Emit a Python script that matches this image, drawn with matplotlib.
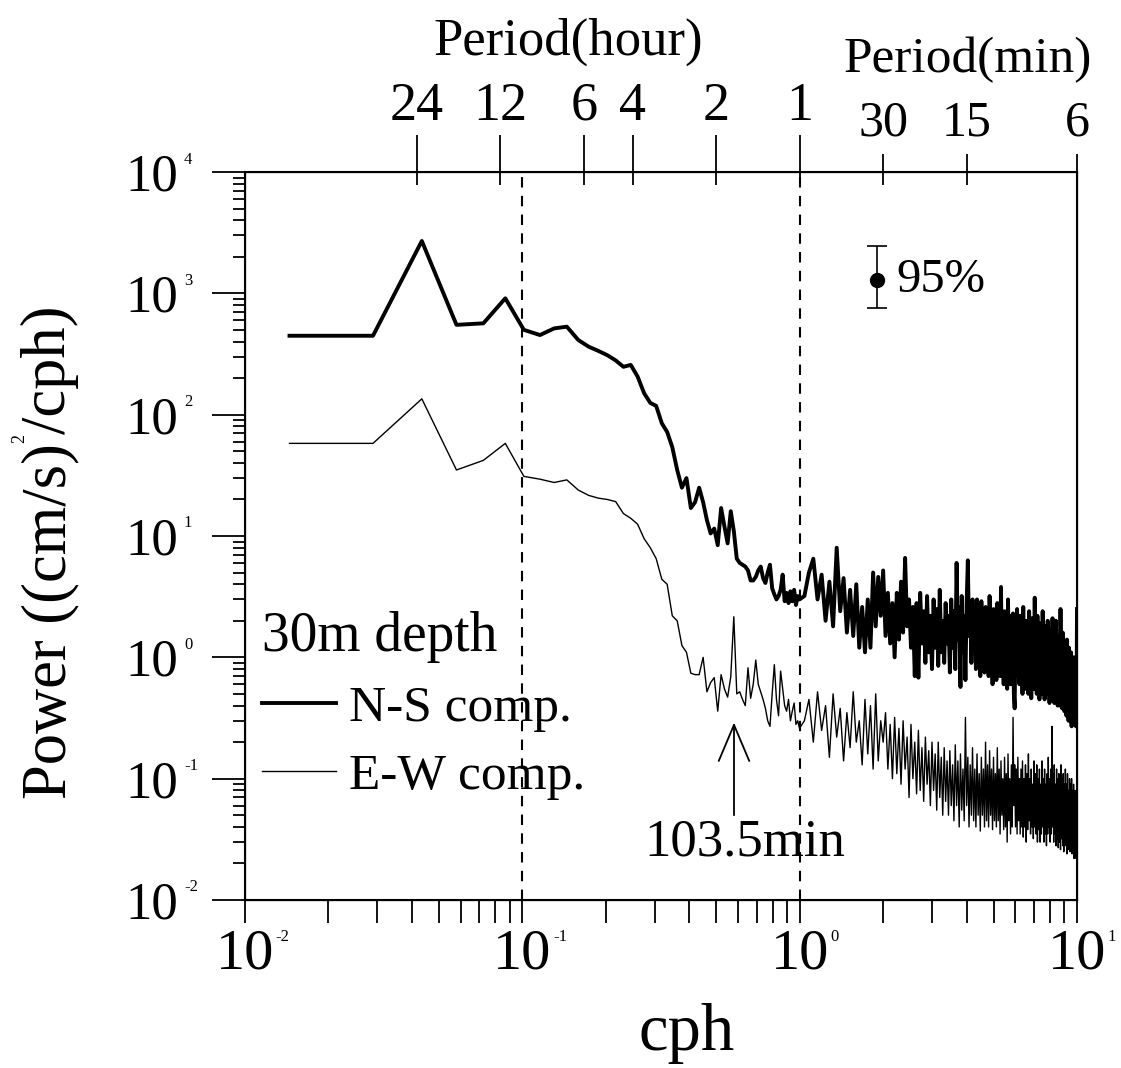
import numpy as np
import matplotlib
matplotlib.use("Agg")
import matplotlib.pyplot as plt
from matplotlib.lines import Line2D
from matplotlib.ticker import FixedLocator, FixedFormatter, NullFormatter, LogLocator

plt.rcParams['font.family'] = ['Liberation Serif', 'DejaVu Serif']

# spectra
DF = 0.01447      # native frequency step below 1 cph
DF_HI = 0.04      # coarser step used above 1 cph
F_HI0 = 1.04

ns_low = [447, 447, 2700, 550, 566, 910, 500, 453, 514, 531,
          412, 363, 335, 309, 280, 248, 257, 206, 150, 125,
          118, 85, 72, 54, 35, 25, 30, 17, 19, 25,
          19, 13.5, 10.5, 11.5, 8.4, 17, 12, 8.7, 16, 11,
          6.5, 6.0, 5.8, 5.6, 5.2, 4.3, 4.3, 4.6, 5.2, 5.6,
          4.5, 4.1, 5.0, 5.8, 3.7, 3.3, 3.0, 3.2, 3.6, 4.8,
          2.9, 3.4, 2.8, 3.5, 2.9, 3.6, 2.7, 3.2, 3.0]
ew_low = [58, 58, 135, 35, 42, 58, 31, 29.4, 27.6, 29,
          23.9, 21.6, 20.5, 20, 19.2, 15.3, 14, 12.5, 9.5, 8,
          6.5, 4.4, 4.0, 2.2, 2.0, 1.25, 1.1, 0.74, 0.72, 0.72,
          1.0, 0.52, 0.62, 0.68, 0.36, 0.72, 0.55, 0.47, 0.69, 2.16,
          0.5, 0.52, 0.45, 0.40, 0.82, 0.46, 0.6, 0.95, 0.6, 0.52,
          0.45, 0.38, 0.3, 0.27, 0.5, 0.87, 0.45, 0.33, 0.77, 0.55,
          0.4, 0.36, 0.45, 0.3, 0.36, 0.42, 0.28, 0.3, 0.26]
ns_high = [3.2, 5.0, 6.5, 3.0, 4.8, 2.0, 4.2, 1.8, 8.0, 2.4,
           4.5, 1.6, 3.6, 1.5, 4.0, 1.2, 2.6, 1.1, 3.0, 1.2,
           5.0, 1.8, 4.6, 2.2, 5.2, 1.5, 3.4, 1.3, 2.8, 1.0,
           3.4, 1.4, 4.2, 1.6, 6.6, 1.8, 3.0, 1.2, 2.6, 0.7,
           2.8, 0.68, 3.4, 1.3, 2.4, 0.9, 3.2, 1.1, 2.2, 0.8,
           3.0, 1.2, 2.5, 0.85, 3.6, 1.1, 2.0, 0.9, 2.8, 1.3,
           2.2, 0.75, 3.0, 1.2, 2.4, 0.8, 6.0, 1.4, 2.6, 0.57,
           3.2, 1.1, 2.2, 0.65, 2.8, 6.3, 1.5, 2.6, 0.9, 3.0,
           1.2, 2.2, 0.8, 3.0, 1.0, 2.4, 0.7, 2.9, 1.2, 2.0,
           0.75, 2.6, 1.1, 2.0, 0.7, 3.2, 1.0, 2.2, 0.6, 2.5,
           1.0, 1.9, 0.65, 2.8, 1.1, 2.1, 0.7, 3.8, 0.9, 2.0,
           0.6, 2.4, 1.0, 1.8, 0.55, 3.0, 0.9, 2.2, 0.6, 1.7,
           0.9, 2.3, 0.5, 0.38, 1.6, 0.8, 2.5, 0.7, 1.8, 0.6,
           2.2, 0.9, 1.5, 0.5, 2.6, 0.8, 1.7, 0.55, 2.0, 0.7,
           1.6, 0.5, 2.4, 0.9, 1.4, 0.46, 2.1, 0.8, 1.5, 0.55,
           3.1, 0.7, 1.7, 0.5, 2.2, 0.8, 1.3, 0.45, 1.9, 0.7,
           1.4, 0.5, 2.4, 0.75, 1.5, 0.45, 1.8, 0.65, 1.2, 0.5,
           2.0, 0.6, 1.3, 0.42, 1.7, 0.7, 1.1, 0.45, 2.1, 0.6,
           1.2, 0.42, 1.6, 0.6, 2.0, 0.5, 1.2, 0.4, 1.5, 0.6,
           1.1, 0.4, 2.5, 0.55, 1.4, 0.38, 1.6, 0.5, 1.1, 0.36,
           1.3, 0.45, 1.0, 0.33, 1.4, 0.5, 0.9, 0.3, 1.2, 0.42,
           0.9, 0.3, 1.1, 0.27, 0.8, 0.35, 1.0, 0.28, 0.7, 0.3,
           1.0, 0.3, 0.27, 0.35, 2.5]
ew_high = [0.3, 0.45, 0.2, 0.52, 0.25, 0.4, 0.15, 0.5, 0.22, 0.38,
           0.14, 0.35, 0.18, 0.52, 0.2, 0.3, 0.13, 0.45, 0.16, 0.4,
           0.12, 0.5, 0.14, 0.3, 0.2, 0.35, 0.12, 0.28, 0.1, 0.32,
           0.11, 0.26, 0.09, 0.3, 0.12, 0.22, 0.07, 0.28, 0.1, 0.2,
           0.075, 0.25, 0.08, 0.18, 0.065, 0.22, 0.09, 0.17, 0.06, 0.2,
           0.08, 0.16, 0.055, 0.2, 0.07, 0.15, 0.05, 0.18, 0.065, 0.14,
           0.05, 0.17, 0.06, 0.13, 0.045, 0.19, 0.06, 0.14, 0.04, 0.16,
           0.055, 0.12, 0.045, 0.32, 0.06, 0.15, 0.04, 0.13, 0.05, 0.18,
           0.045, 0.12, 0.04, 0.16, 0.05, 0.11, 0.037, 0.15, 0.05, 0.12,
           0.04, 0.2, 0.045, 0.13, 0.04, 0.17, 0.05, 0.12, 0.038, 0.15,
           0.045, 0.11, 0.04, 0.18, 0.045, 0.12, 0.035, 0.14, 0.05, 0.1,
           0.038, 0.15, 0.04, 0.11, 0.03, 0.16, 0.045, 0.1, 0.035, 0.13,
           0.04, 0.32, 0.06, 0.13, 0.04, 0.12, 0.035, 0.15, 0.045, 0.1,
           0.035, 0.12, 0.04, 0.14, 0.033, 0.1, 0.04, 0.13, 0.03, 0.11,
           0.038, 0.16, 0.045, 0.1, 0.035, 0.12, 0.04, 0.09, 0.032, 0.14,
           0.04, 0.11, 0.035, 0.13, 0.03, 0.1, 0.038, 0.12, 0.03, 0.09,
           0.035, 0.14, 0.04, 0.1, 0.03, 0.12, 0.035, 0.09, 0.028, 0.11,
           0.035, 0.15, 0.04, 0.1, 0.03, 0.12, 0.035, 0.27, 0.04, 0.11,
           0.03, 0.13, 0.035, 0.09, 0.028, 0.12, 0.032, 0.1, 0.027, 0.11,
           0.03, 0.09, 0.026, 0.13, 0.032, 0.1, 0.028, 0.11, 0.025, 0.09,
           0.03, 0.12, 0.028, 0.09, 0.024, 0.11, 0.03, 0.08, 0.026, 0.1,
           0.025, 0.09, 0.03, 0.1, 0.024, 0.08, 0.028, 0.09, 0.022, 0.07,
           0.08, 0.025, 0.022, 0.03, 0.28]

hour_ticks = [24, 12, 6, 4, 2, 1]
min_ticks = [30, 15, 6]
x_decades = [-2, -1, 0, 1]
y_decades = [-2, -1, 0, 1, 2, 3, 4]

ci_freq = 1.9
ci_val = 1300
ci_low = 760
ci_high = 2450
peak_min = 103.5
peak_cph = 60 / peak_min

freq = np.concatenate([DF * np.arange(1, len(ns_low) + 1),
                       F_HI0 + DF_HI * np.arange(len(ns_high))])
ns = np.concatenate([ns_low, ns_high])
ew = np.concatenate([ew_low, ew_high])

W, H = 1121, 1068
fig = plt.figure(figsize=(W / 100, H / 100), dpi=100)
ax = fig.add_axes([245 / W, 1 - 900 / H, 832 / W, 728 / H])
ax.set_xscale('log')
ax.set_yscale('log')
ax.set_xlim(1e-2, 10)
ax.set_ylim(1e-2, 1e4)

ax.plot(freq, ns, color='k', lw=2.8)
ax.plot(freq, ew, color='k', lw=1.0)

for f in [0.1, 1.0]:
    ax.axvline(f, color='k', lw=1.5, ls=(0, (5, 4)))

for s in ax.spines.values():
    s.set_linewidth(1.5)

# bottom axis
ax.xaxis.set_major_locator(FixedLocator([10.0 ** d for d in x_decades]))
ax.xaxis.set_major_formatter(FixedFormatter(['10'] * len(x_decades)))
ax.xaxis.set_minor_locator(LogLocator(base=10, subs=range(2, 10)))
ax.xaxis.set_minor_formatter(NullFormatter())
ax.tick_params(axis='x', which='both', direction='out', length=16.5, width=1.3,
               labelsize=42, pad=4, top=False)
for d in x_decades:
    ax.annotate(str(d), xy=(10.0 ** d, 0), xycoords=('data', 'axes fraction'),
                xytext=(22, -21), textcoords='offset points', fontsize=12,
                ha='left', va='top')

# left axis
ax.yaxis.set_major_locator(FixedLocator([10.0 ** d for d in y_decades]))
ax.yaxis.set_major_formatter(FixedFormatter(['10'] * len(y_decades)))
ax.yaxis.set_minor_locator(LogLocator(base=10, subs=range(2, 10)))
ax.yaxis.set_minor_formatter(NullFormatter())
ax.tick_params(axis='y', which='major', direction='out', length=24, width=1.3,
               labelsize=38, pad=24, right=False)
ax.tick_params(axis='y', which='minor', direction='out', length=9, width=1.3, right=False)
for d in y_decades:
    ax.annotate(str(d), xy=(0, 10.0 ** d), xycoords=('axes fraction', 'data'),
                xytext=(-44, 9), textcoords='offset points', fontsize=12,
                ha='left', va='center')

# top axis: periods
ax2 = ax.twiny()
ax2.set_xscale('log')
ax2.set_xlim(ax.get_xlim())
ax2.xaxis.set_major_locator(FixedLocator([1.0 / h for h in hour_ticks]))
ax2.xaxis.set_major_formatter(FixedFormatter([str(h) for h in hour_ticks]))
ax2.xaxis.set_minor_locator(FixedLocator([60.0 / m for m in min_ticks]))
ax2.xaxis.set_minor_formatter(FixedFormatter([str(m) for m in min_ticks]))
ax2.tick_params(which='major', direction='out', length=27, width=1.3, labelsize=39, pad=1.8)
ax2.tick_params(which='minor', direction='out', length=13, width=1.3, labelsize=36, pad=5.5)

ax3 = ax.twiny()
ax3.set_xscale('log')
ax3.set_xlim(ax.get_xlim())
ax3.xaxis.set_major_locator(FixedLocator([1.0 / h for h in hour_ticks] + [60.0 / m for m in min_ticks]))
ax3.xaxis.set_minor_locator(FixedLocator([]))
ax3.tick_params(which='major', direction='in', length=9, width=1.3, labeltop=False)

fig.text(568 / W, 1 - 42 / H, 'Period(hour)', ha='center', va='center', fontsize=38)
fig.text(968 / W, 1 - 60 / H, 'Period(min)', ha='center', va='center', fontsize=37)
fig.text(687 / W, 1 - 1050 / H, 'cph', ha='center', va='baseline', fontsize=48)

# y label with a small superscript, built from three rotated pieces
r = fig.canvas.get_renderer()
pieces = [('Power ((cm/s)', 45, 0), ('2', 13, -30), ('/cph)', 45, 0)]
texts = [fig.text(0, 0, s, rotation=90, fontsize=fs, ha='center', va='bottom')
         for s, fs, dx in pieces]
lengths = [t.get_window_extent(r).height for t in texts]
y0 = (H - 552) - sum(lengths) / 2
for t, (s, fs, dx), L in zip(texts, pieces, lengths):
    t.set_position(((50 + dx) / W, y0 / H))
    y0 += L

# 95% confidence bar
ax.errorbar([ci_freq], [ci_val], yerr=[[ci_val - ci_low], [ci_high - ci_val]],
            fmt='o', color='k', ms=10, capsize=7, elinewidth=1.2, capthick=1.2)
ax.annotate('95%', xy=(ci_freq, ci_val), xytext=(14, 0), textcoords='offset points',
            va='center', ha='left', fontsize=35)

# 103.5 min peak
ax.annotate('', xy=(peak_cph, 0.29), xytext=(peak_cph, 0.05),
            arrowprops=dict(arrowstyle='->,head_length=1.3,head_width=0.55', lw=1.3,
                            color='k', mutation_scale=20, shrinkA=0, shrinkB=0))
ax.text(0.635, 0.03, '%.1fmin' % peak_min, ha='center', va='center', fontsize=38)

handles = [Line2D([], [], color='k', lw=2.8), Line2D([], [], color='k', lw=1.0)]
leg = ax.legend(handles, ['N-S comp.', 'E-W comp.'], loc='upper left',
                bbox_to_anchor=(0.02, 0.397), frameon=False, fontsize=37,
                title='30m depth', title_fontsize=40, alignment='left',
                handlelength=1.45, handletextpad=0.25, labelspacing=0.42,
                borderpad=0, borderaxespad=0)

fig.savefig('out.png', dpi=100)
